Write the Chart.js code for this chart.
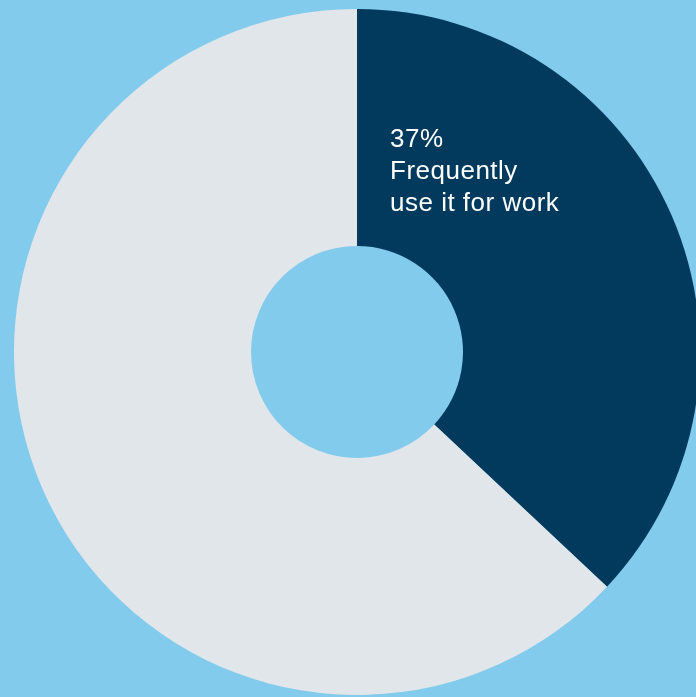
<!DOCTYPE html>
<html lang="en">
<head>
<meta charset="UTF-8" />
<title>Work usage</title>
<script src="https://cdn.jsdelivr.net/npm/chart.js"></script>
<style>
  html, body {
    margin: 0;
    padding: 0;
    background: #82cbec;
    overflow: hidden;
  }
  #chart-container {
    position: absolute;
    left: 0;
    top: 0;
    width: 714px;
    height: 704px;
  }
</style>
</head>
<body>
  <div id="chart-container">
    <canvas id="donut"></canvas>
  </div>

<script>
  const labels = ['Frequently use it for work', 'Other'];
  const values = [37, 63];
  const colors = ['#013a5c', '#e1e6ea'];
  const calloutLines = ['37%', 'Frequently', 'use it for work'];

  // writes the callout inside the dark slice
  const calloutText = {
    id: 'calloutText',
    afterDatasetsDraw(chart) {
      const ctx = chart.ctx;
      ctx.save();
      ctx.fillStyle = '#ffffff';
      ctx.font = '26px "Liberation Sans", Arial, sans-serif';
      ctx.letterSpacing = '0.5px';
      ctx.textBaseline = 'alphabetic';
      calloutLines.forEach((line, i) => {
        ctx.fillText(line, 390, 147 + i * 32);
      });
      ctx.restore();
    }
  };

  new Chart(document.getElementById('donut'), {
    type: 'doughnut',
    data: {
      labels: labels,
      datasets: [{
        data: values,
        backgroundColor: colors,
        borderWidth: 0
      }]
    },
    options: {
      responsive: true,
      maintainAspectRatio: false,
      animation: false,
      cutout: '30.9%',
      layout: { padding: 9 },
      plugins: {
        legend: { display: false },
        tooltip: { enabled: false }
      }
    },
    plugins: [calloutText]
  });
</script>
</body>
</html>
